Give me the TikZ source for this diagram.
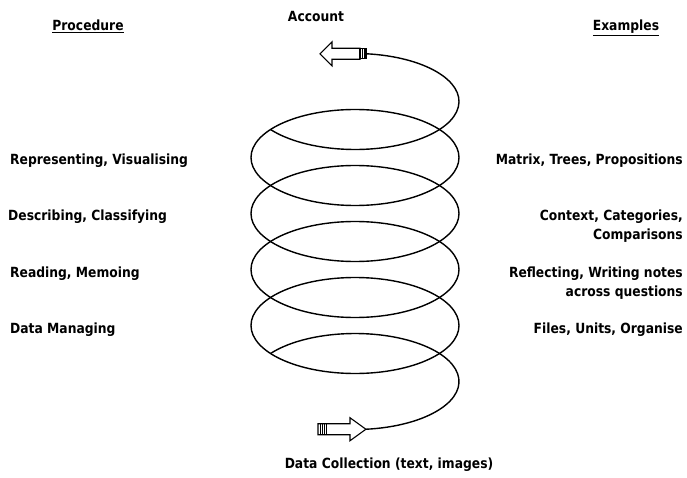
\documentclass[tikz,border=0pt]{standalone}
\usepackage{fontspec}
\setmainfont{DejaVu Sans}[FakeStretch=0.88]
\begin{document}
\begin{tikzpicture}[x=1pt,y=1pt,
  coil/.style={line width=1.4pt, black},
  arrowshape/.style={line width=1.1pt, black, fill=white, line join=miter},
  lbl/.style={font=\fontsize{14}{19}\selectfont\bfseries, inner sep=0pt},
  ell/.style={x radius=104pt, y radius=48pt}]
\useasboundingbox (0,0) rectangle (687,477);
\fill[white] (0,0) rectangle (687,477);

% full loops of the coil
\foreach \c in {319.5,263.5,207.5,151.5}{
  \draw[coil] (355,\c) ellipse[ell];
}

% top arrow (Account)
\def\ya{423.2}
\coordinate (acctTail) at (366.95,423.18);
\draw[arrowshape] (320,\ya) -- (332,\ya+12) -- (332,\ya+5.5) -- (360,\ya+5.5)
  -- (360,\ya-5.5) -- (332,\ya-5.5) -- (332,\ya-12) -- cycle;
\draw[arrowshape] (360,\ya-5) rectangle (366,\ya+5);
\draw[line width=0.8pt] (362,\ya-5) -- (362,\ya+5) (364,\ya-5) -- (364,\ya+5);
\draw[coil] (acctTail) arc[start angle=83.4, end angle=-144.3, ell];

% bottom arrow (Data Collection)
\def\yb{47.76}
\coordinate (dataTip) at (365.9,47.76);
\coordinate (lowStart) at (270.54,123.5);
\draw[coil] (lowStart) arc[start angle=144.3, end angle=-84, ell];
\draw[arrowshape] (dataTip) -- (350,\yb+11.5) -- (350,\yb+5.5) -- (318,\yb+5.5)
  -- (318,\yb-5.5) -- (350,\yb-5.5) -- (350,\yb-11.5) -- cycle;
\draw[line width=0.7pt] (320,\yb-5.5) -- (320,\yb+5.5) (322,\yb-5.5) -- (322,\yb+5.5)
  (324,\yb-5.5) -- (324,\yb+5.5) (326,\yb-5.5) -- (326,\yb+5.5);

% headings
\node[lbl, anchor=base] (proc) at (88,446) {\underline{Procedure}};
\node[lbl, anchor=base] (acct) at (316,455) {Account};
\node[lbl, anchor=base] (exam) at (626,446) {\underline{Examples}};

% procedure column
\node[lbl, anchor=base west] (p1) at (10,312) {Representing, Visualising};
\node[lbl, anchor=base west] (p2) at (8,256) {Describing, Classifying};
\node[lbl, anchor=base west] (p3) at (10,200) {Reading, Memoing};
\node[lbl, anchor=base west] (p4) at (10,144) {Data Managing};

% examples column
\node[lbl, anchor=base east] (e1) at (683,312) {Matrix, Trees, Propositions};
\node[lbl, anchor=base east, align=right] (e2) at (683,237) {Context, Categories,\\Comparisons};
\node[lbl, anchor=base east, align=right] (e3) at (683,181) {Reflecting, Writing notes\\across questions};
\node[lbl, anchor=base east] (e4) at (683,144) {Files, Units, Organise};

% bottom
\node[lbl, anchor=base] (data) at (389,9) {Data Collection (text, images)};
\end{tikzpicture}
\end{document}
